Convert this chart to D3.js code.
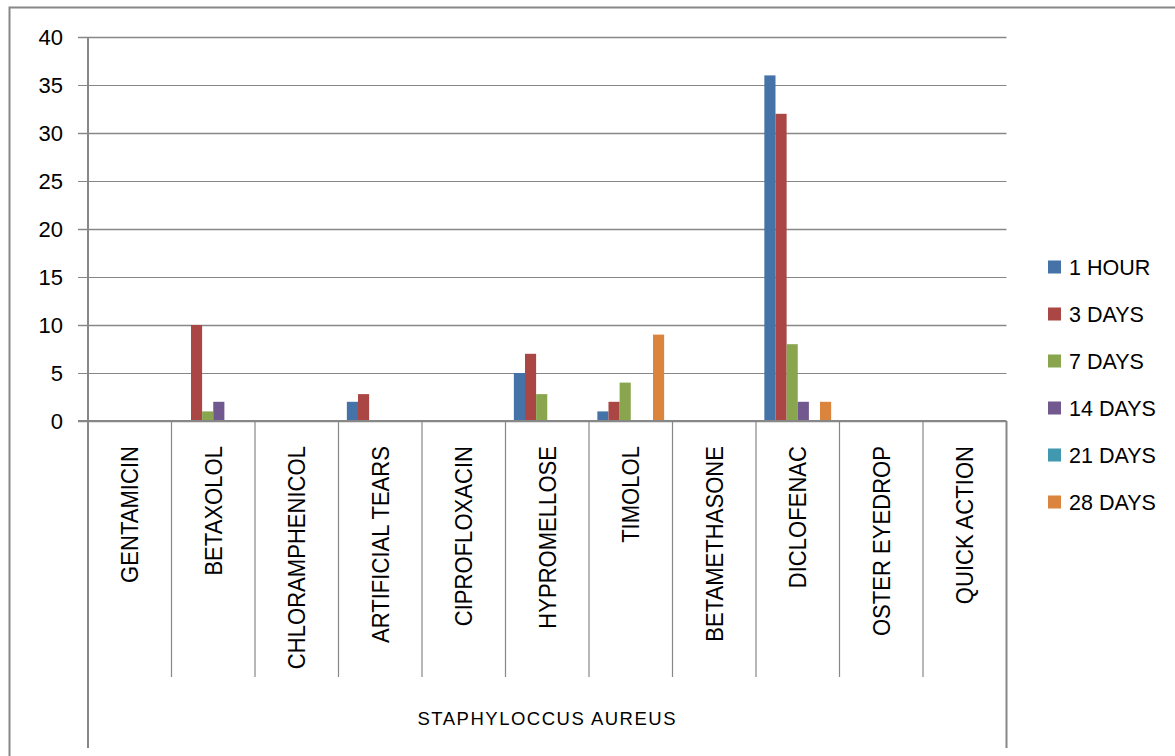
<!DOCTYPE html>
<html>
<head>
<meta charset="utf-8">
<script src="https://cdn.jsdelivr.net/npm/d3@7"></script>
<style>
  html, body { margin: 0; padding: 0; background: #fff; }
  svg { display: block; }
  text { font-family: "Liberation Sans", Arial, sans-serif; fill: #000; }
</style>
</head>
<body>
<svg id="chart" width="1175" height="756"></svg>
<script>
// Drugs tested against Staphylococcus aureus
const categories = ["GENTAMICIN", "BETAXOLOL", "CHLORAMPHENICOL", "ARTIFICIAL TEARS",
  "CIPROFLOXACIN", "HYPROMELLOSE", "TIMOLOL", "BETAMETHASONE", "DICLOFENAC",
  "OSTER EYEDROP", "QUICK ACTION"];
const groupLabel = "STAPHYLOCCUS AUREUS";

// Series: sampling intervals
const seriesNames = ["1 HOUR", "3 DAYS", "7 DAYS", "14 DAYS", "21 DAYS", "28 DAYS"];
const seriesColors = ["#4572A7", "#AA4643", "#89A54E", "#71588F", "#4198AF", "#DB843D"];

// Values per series, one entry per drug
const hour1  = [0, 0, 0, 2,   0, 5,   1, 0, 36, 0, 0];
const days3  = [0, 10, 0, 2.8, 0, 7,   2, 0, 32, 0, 0];
const days7  = [0, 1, 0, 0,   0, 2.8, 4, 0, 8,  0, 0];
const days14 = [0, 2, 0, 0,   0, 0,   0, 0, 2,  0, 0];
const days21 = [0, 0, 0, 0,   0, 0,   0, 0, 0,  0, 0];
const days28 = [0, 0, 0, 0,   0, 0,   9, 0, 2,  0, 0];
const seriesValues = [hour1, days3, days7, days14, days21, days28];

const yTicks = [0, 5, 10, 15, 20, 25, 30, 35, 40];

const svg = d3.select("#chart");
const grid = "#878787";

const plot = { left: 88, right: 1006.5, top: 37, bottom: 421 };

const x0 = d3.scaleBand().domain(categories).range([plot.left, plot.right]).padding(0);
const bw = x0.bandwidth();
const x1 = d3.scaleBand().domain(seriesNames).range([bw * 0.1, bw * 0.9]).padding(0);
const y = d3.scaleLinear().domain([0, 40]).range([plot.bottom, plot.top]);

// outer chart frame (left and top edges visible)
svg.append("path")
  .attr("d", "M9.5,756 L9.5,7.5 L1175,7.5")
  .attr("fill", "none").attr("stroke", grid).attr("stroke-width", 2);

// horizontal gridlines with outward ticks
const yAxis = d3.axisLeft(y).tickValues(yTicks)
  .tickSize(-(plot.right - plot.left)).tickSizeOuter(0).tickPadding(0).tickFormat("");
const gy = svg.append("g").attr("transform", `translate(${plot.left},0)`).call(yAxis);
gy.select(".domain").remove();
gy.selectAll(".tick line")
  .attr("x1", -10)
  .attr("stroke", grid)
  .attr("stroke-width", d => (d % 10 === 0 ? 1.7 : 1.1));

// y tick labels
svg.append("g").selectAll("text").data(yTicks).join("text")
  .attr("x", 63).attr("y", d => y(d) + 7.5)
  .attr("text-anchor", "end")
  .attr("font-size", 22)
  .text(d => d);

// bars
const barG = svg.append("g");
seriesNames.forEach((s, si) => {
  barG.append("g").attr("fill", seriesColors[si])
    .selectAll("rect").data(seriesValues[si].map((v, i) => ({ v, c: categories[i] })))
    .join("rect")
    .filter(d => d.v > 0)
    .attr("x", d => x0(d.c) + x1(s))
    .attr("width", x1.bandwidth())
    .attr("y", d => y(d.v))
    .attr("height", d => y(0) - y(d.v));
});

// y axis line (extends through category label area)
svg.append("line")
  .attr("x1", plot.left).attr("x2", plot.left)
  .attr("y1", plot.top).attr("y2", 748)
  .attr("stroke", grid).attr("stroke-width", 2);

// category dividers below the baseline
const dividers = categories.slice(1).map(c => x0(c));
svg.append("g").selectAll("line").data(dividers).join("line")
  .attr("x1", d => d).attr("x2", d => d)
  .attr("y1", plot.bottom).attr("y2", 677)
  .attr("stroke", grid).attr("stroke-width", 1.2);

// right edge of the group level
svg.append("line")
  .attr("x1", plot.right).attr("x2", plot.right)
  .attr("y1", plot.bottom).attr("y2", 748)
  .attr("stroke", grid).attr("stroke-width", 2);

// baseline
svg.append("line")
  .attr("x1", plot.left - 10).attr("x2", plot.right)
  .attr("y1", y(0)).attr("y2", y(0))
  .attr("stroke", grid).attr("stroke-width", 2);

// rotated category labels
svg.append("g").selectAll("text").data(categories).join("text")
  .attr("transform", d => `translate(${x0(d) + bw / 2 + 8.6},446) rotate(-90) scale(0.92,1)`)
  .attr("text-anchor", "end")
  .attr("font-size", 24)
  .text(d => d);

// group label
svg.append("text")
  .attr("x", (plot.left + plot.right) / 2).attr("y", 725)
  .attr("text-anchor", "middle")
  .attr("font-size", 18.5)
  .attr("letter-spacing", 1.5)
  .text(groupLabel);

// legend
const legend = svg.append("g").attr("transform", "translate(1048,267)");
const items = legend.selectAll("g").data(seriesNames).join("g")
  .attr("transform", (d, i) => `translate(0,${i * 47})`);
items.append("rect")
  .attr("x", 0).attr("y", -6.5).attr("width", 13).attr("height", 13)
  .attr("fill", (d, i) => seriesColors[i]);
items.append("text")
  .attr("x", 21).attr("y", 8)
  .attr("font-size", 21.5)
  .text(d => d);
</script>
</body>
</html>
